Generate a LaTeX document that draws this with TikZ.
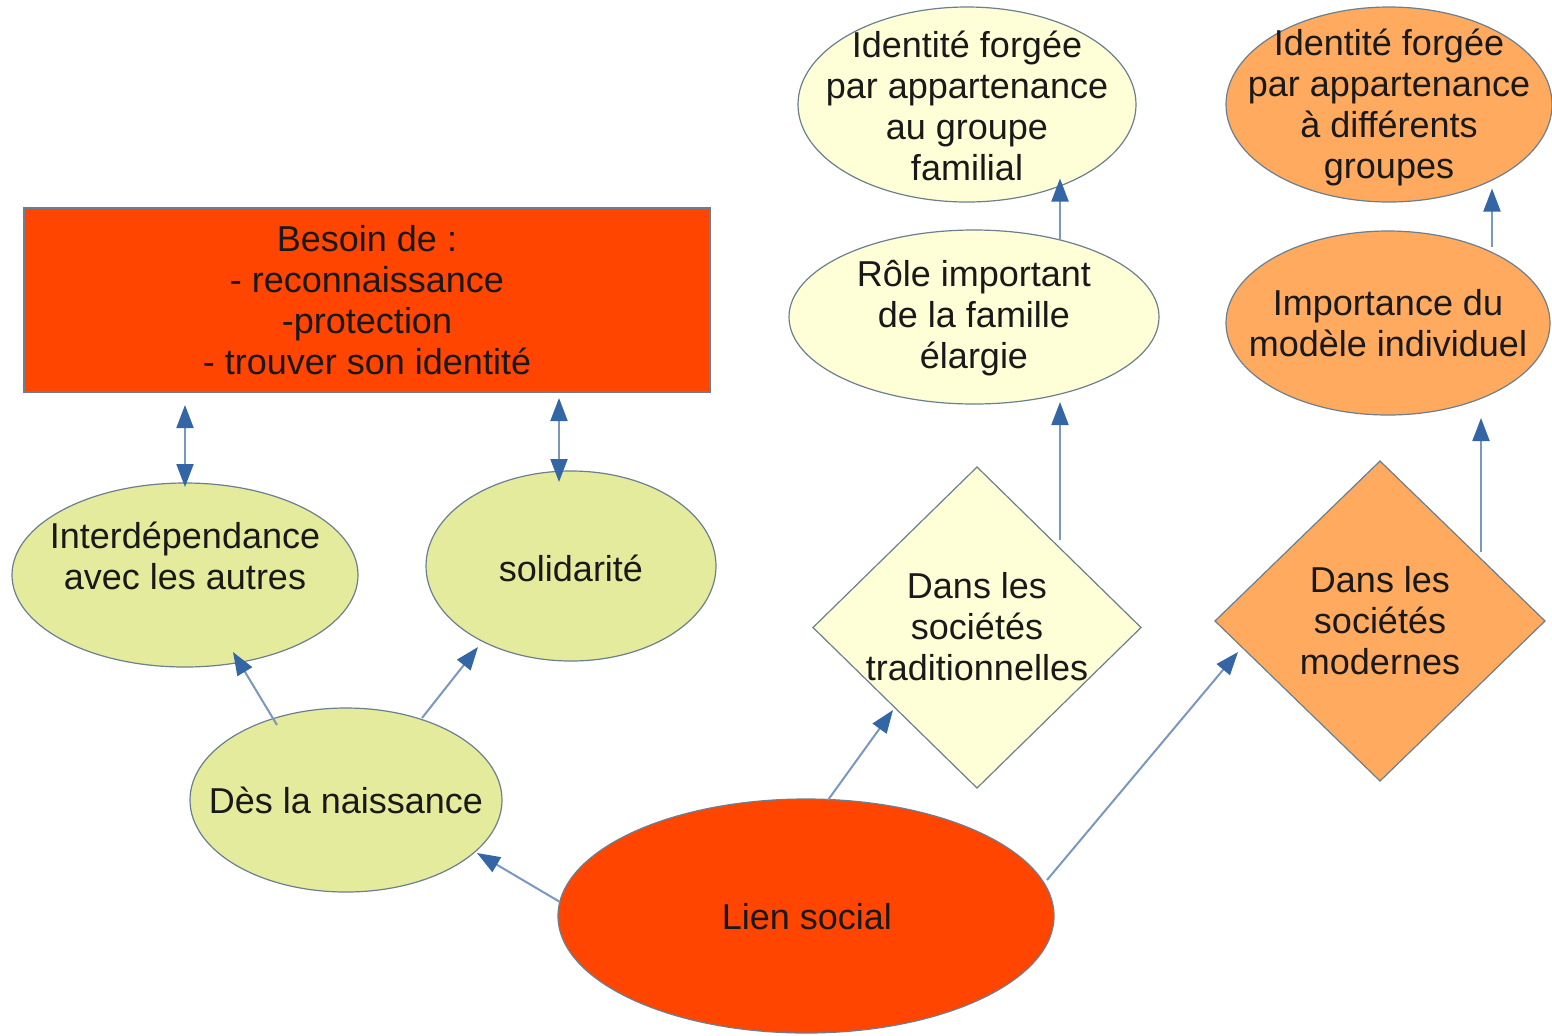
\documentclass[tikz,border=0pt]{standalone}
\usepackage{fontspec}
\setmainfont{Liberation Sans}
\usetikzlibrary{shapes.geometric,arrows.meta,calc}
\definecolor{redor}{HTML}{FF4500}
\definecolor{lgreen}{HTML}{E5EB9D}
\definecolor{lyellow}{HTML}{FFFFD7}
\definecolor{lorange}{HTML}{FFAA5E}
\definecolor{edgec}{HTML}{6B7F8E}
\definecolor{lineblue}{HTML}{7A97BD}
\definecolor{tipblue}{HTML}{3465A4}
\tikzset{
  bt/.tip={Triangle[length=11.5pt,width=8.5pt,color=tipblue]},
  shp/.style={draw=edgec, line width=0.6pt, inner sep=0pt, outer sep=0pt},
  ell/.style={shp, ellipse},
  dia/.style={shp, diamond},
  txt/.style={align=center, font=\fontsize{18}{20.5}\selectfont, text=black!90, inner sep=0pt},
  conn/.style={draw=lineblue, line width=1pt, -bt},
  dconn/.style={draw=lineblue, line width=1pt, bt-bt}
}
\begin{document}
\begin{tikzpicture}[x=0.5pt,y=-0.5pt]
\useasboundingbox (0,0) rectangle (1552,1035);

% shapes
\node[shp, rectangle, fill=redor, minimum width=343pt, minimum height=92pt] (besoin) at (367,300) {};
\node[ell, fill=lgreen, minimum width=173pt, minimum height=92pt] (interd) at (185,575) {};
\node[ell, fill=lgreen, minimum width=145pt, minimum height=95pt] (solid) at (571,566) {};
\node[ell, fill=lgreen, minimum width=156pt, minimum height=92pt] (des) at (346,800) {};
\node[ell, fill=redor, minimum width=248pt, minimum height=117pt] (lien) at (806,916) {};
\node[dia, fill=lyellow, minimum width=164pt, minimum height=160.5pt] (trad) at (977,627.5) {};
\node[dia, fill=lorange, minimum width=165pt, minimum height=160pt] (mod) at (1380,621) {};
\node[ell, fill=lyellow, minimum width=185pt, minimum height=87pt] (rol) at (974,317) {};
\node[ell, fill=lyellow, minimum width=169pt, minimum height=97.5pt] (idfam) at (967,104.5) {};
\node[ell, fill=lorange, minimum width=162pt, minimum height=92pt] (imp) at (1388,323) {};
\node[ell, fill=lorange, minimum width=163pt, minimum height=97.5pt] (iddiff) at (1389,104.5) {};

% texts
\node[txt] (besoin-t) at (367,300) {Besoin de :\\- reconnaissance\\-protection\\- trouver son identité};
\node[txt] (interd-t) at (185,556) {Interdépendance\\avec les autres};
\node[txt] (solid-t) at (571,568) {solidarité};
\node[txt] (des-t) at (346,800) {Dès la naissance};
\node[txt] (lien-t) at (807,917) {Lien social};
\node[txt] (trad-t) at (977,627) {Dans les\\sociétés\\traditionnelles};
\node[txt] (mod-t) at (1380,621) {Dans les\\sociétés\\modernes};
\node[txt] (rol-t) at (974,318) {Rôle important\\de la famille\\élargie};
\node[txt] (idfam-t) at (967,106) {Identité forgée\\par appartenance\\au groupe\\familial};
\node[txt] (imp-t) at (1388,323) {Importance du\\modèle individuel};
\node[txt] (iddiff-t) at (1389,107) {Identité forgée\\par appartenance\\à différents\\groupes};

% connectors
\draw[dconn] ($(interd)+(0,-88)$) -- ($(besoin)+(-182,105)$);
\draw[dconn] ($(solid)+(-12,-84)$) -- ($(besoin)+(192,98)$);
\draw[conn] ($(des)+(-69,-75)$) -- ($(interd)+(48,77)$);
\draw[conn] ($(des)+(76,-82)$) -- ($(solid)+(-93,81)$);
\draw[conn] ($(lien)+(-246,-14)$) -- ($(des)+(131,53)$);
\draw[conn] ($(lien)+(22,-116)$) -- ($(trad)+(-84,82.5)$);
\draw[conn] ($(lien)+(241,-36)$) -- ($(mod)+(-142,31)$);
\draw[conn] ($(trad)+(83,-87.5)$) -- ($(rol)+(86,85)$);
\draw[conn] ($(rol)+(86,-77)$) -- ($(idfam)+(93,74)$);
\draw[conn] ($(mod)+(101,-69)$) -- ($(imp)+(93,95)$);
\draw[conn] ($(imp)+(104,-76)$) -- ($(iddiff)+(103,84)$);
\end{tikzpicture}
\end{document}
